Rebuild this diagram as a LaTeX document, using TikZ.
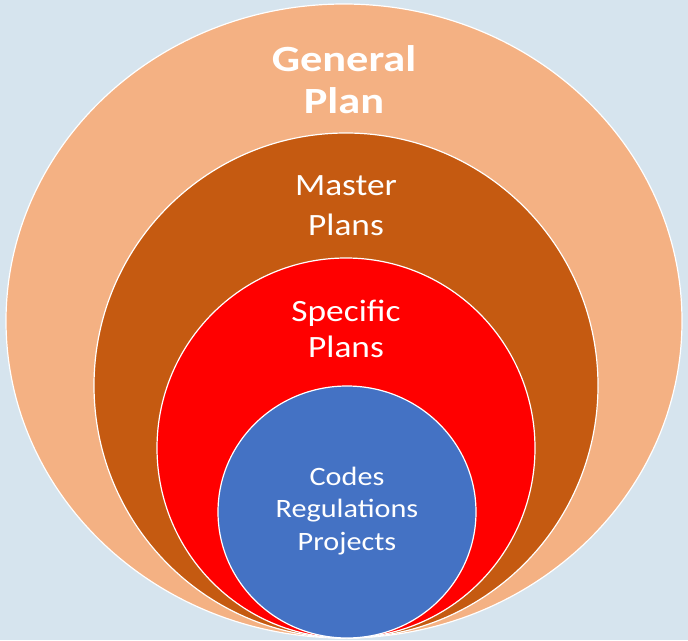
\documentclass[tikz,border=0pt]{standalone}
\usepackage{fontspec}
\setmainfont{Carlito}
\newfontfamily\widefont[FakeStretch=1.14]{Carlito}
\newfontfamily\widerfont[FakeStretch=1.2]{Carlito}
\usetikzlibrary{positioning}
\definecolor{bgblue}{HTML}{D6E4EE}
\definecolor{peach}{HTML}{F4B183}
\definecolor{rust}{HTML}{C55A11}
\definecolor{planred}{HTML}{FF0000}
\definecolor{codeblue}{HTML}{4472C4}
\tikzstyle{ring} = [draw=white, line width=1.2pt]
\tikzstyle{label} = [text=white, align=center, inner sep=0pt]

\begin{document}
\begin{tikzpicture}[x=1pt, y=-1pt]
    \fill[bgblue] (0,0) rectangle (688,640);
    \useasboundingbox (0,0) rectangle (688,640);

    \filldraw[ring, fill=peach] (344,321) ellipse [x radius=338, y radius=317];
    \filldraw[ring, fill=rust] (346,385.5) ellipse [x radius=252, y radius=252.5];
    \filldraw[ring, fill=planred] (346,448) ellipse [x radius=189, y radius=190];
    \filldraw[ring, fill=codeblue] (347,512) ellipse [x radius=129, y radius=126];

    \node (general) [label, font=\widerfont\fontsize{37}{42}\selectfont\bfseries] at (344,80) {General\\Plan};
    \node (master) [label, font=\widefont\fontsize{31}{40}\selectfont] at (346,206) {Master\\Plans};
    \node (specific) [label, font=\widefont\fontsize{31}{36}\selectfont] at (346,329) {Specific\\Plans};
    \node (codes) [label, font=\widefont\fontsize{26.5}{32.5}\selectfont] at (347,511) {Codes\\Regulations\\Projects};
\end{tikzpicture}
\end{document}
